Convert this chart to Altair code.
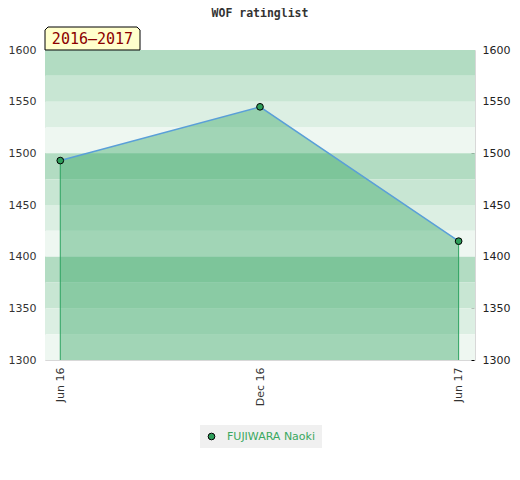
import altair as alt
import pandas as pd

# ---- data ----
dates = ["2016-06-01T00:00:00", "2016-12-01T00:00:00", "2017-06-01T00:00:00"]
ratings = [1493, 1545, 1415]
player = "FUJIWARA Naoki"
title_text = "WOF ratinglist"
period_label = "2016–2017"
x_tick_dates = dates
y_min, y_max = 1300, 1600

band_colors = ["#b2dcc2", "#c8e6d3", "#dcefe3", "#eef7f1"]

df = pd.DataFrame({"date": dates, "rating": ratings, "player": [player] * len(dates)})
ends = df.iloc[[0, -1]].copy()
ends["base"] = y_min

band_hi = list(range(y_max, y_min, -25))
bands = pd.DataFrame({
    "hi": band_hi,
    "lo": [h - 25 for h in band_hi],
    "col": [band_colors[i % 4] for i in range(len(band_hi))],
})

x_scale = alt.Scale(domain=[alt.DateTime(year=2016, month=5, date=18),
                            alt.DateTime(year=2017, month=6, date=16)])
y_scale = alt.Scale(domain=[y_min, y_max], nice=False, zero=False)

x_axis = alt.Axis(values=[alt.DateTime(year=int(d[:4]), month=int(d[5:7]), date=int(d[8:10])) for d in x_tick_dates],
                  format="%b %y", labelAngle=-90, labelPadding=7, ticks=False, domain=False,
                  grid=False, title=None, labelColor="#333", labelFontSize=11, labelFont="DejaVu Sans")

left_axis = alt.Axis(values=list(range(y_min, y_max + 1, 50)), format="d", ticks=False, domain=False,
                     grid=False, title=None, labelPadding=9, labelColor="#333", labelFontSize=11,
                     labelFont="DejaVu Sans", orient="left")
right_axis = alt.Axis(values=list(range(y_min, y_max + 1, 10)), format="d", tickSize=3, tickColor="#000",
                      domain=False, grid=False, title=None, offset=-4, labelPadding=8,
                      labelExpr="datum.value % 50 == 0 ? datum.label : ''",
                      labelColor="#222", labelFontSize=11, labelFont="DejaVu Sans", orient="right")

X = alt.X("date:T", scale=x_scale, axis=x_axis)

band_layer = alt.Chart(bands).mark_rect().encode(
    y=alt.Y("hi:Q", scale=y_scale, axis=left_axis),
    y2="lo:Q",
    fill=alt.Fill("col:N", scale=None),
)

area = alt.Chart(df).mark_area(color="#2ca25f", opacity=0.4).encode(
    x=X,
    y=alt.Y("rating:Q", scale=y_scale, axis=None),
    y2=alt.datum(y_min),
)

rules = alt.Chart(ends).mark_rule(stroke="#2ca25f", color="#2ca25f", strokeWidth=1).encode(
    x=X,
    y=alt.Y("rating:Q", scale=y_scale, axis=None),
    y2="base:Q",
)

line = alt.Chart(df).mark_line(color="#5a9fd8", strokeWidth=1.5).encode(
    x=X,
    y=alt.Y("rating:Q", scale=y_scale, axis=right_axis),
)

points = alt.Chart(df).mark_point(filled=True, size=45, stroke="#000", strokeWidth=1, opacity=1).encode(
    x=X,
    y=alt.Y("rating:Q", scale=y_scale, axis=None),
    color=alt.Color("player:N", scale=alt.Scale(domain=[player], range=["#2e9e5a"]),
                    legend=alt.Legend(title=None, orient="none", legendX=155, legendY=375,
                                      fillColor="#f0f0f0", padding=6, symbolType="circle",
                                      symbolSize=45, symbolStrokeColor="#000", symbolStrokeWidth=1,
                                      labelColor="#3aa860", labelFont="DejaVu Sans",
                                      labelFontSize=11, labelOffset=10)),
)

one = pd.DataFrame({"t": [period_label], "title": [title_text]})

box_path = "M-1,-0.179 L-0.937,-0.242 L0.937,-0.242 L1,-0.179 L1,0.242 L-1,0.242 Z"
label_box = alt.Chart(one).mark_point(
    shape=box_path, size=95 * 95, filled=True, fill="#ffffcc", stroke="#000", strokeWidth=1, opacity=1
).encode(x=alt.value(47.5), y=alt.value(-11.5))

label_text = alt.Chart(one).mark_text(
    font="DejaVu Sans Mono", fontSize=15, color="#8b0000", align="center", baseline="middle"
).encode(x=alt.value(47.5), y=alt.value(-11), text="t:N")

title_mark = alt.Chart(one).mark_text(
    font="DejaVu Sans Mono", fontSize=11.5, fontWeight="bold", color="#333",
    align="center", baseline="alphabetic"
).encode(x=alt.value(215), y=alt.value(-33), text="title:N")

chart = alt.layer(band_layer, area, rules, line, points, label_box, label_text, title_mark).resolve_axis(
    y="independent"
).properties(
    width=430, height=310,
    autosize=alt.AutoSizeParams(type="none"),
    padding={"left": 37, "top": 42, "right": 37, "bottom": 110},
).configure_view(stroke="#d8d8d8", strokeWidth=1)

chart.save("out.html", embed_options={"renderer": "svg", "actions": False})
